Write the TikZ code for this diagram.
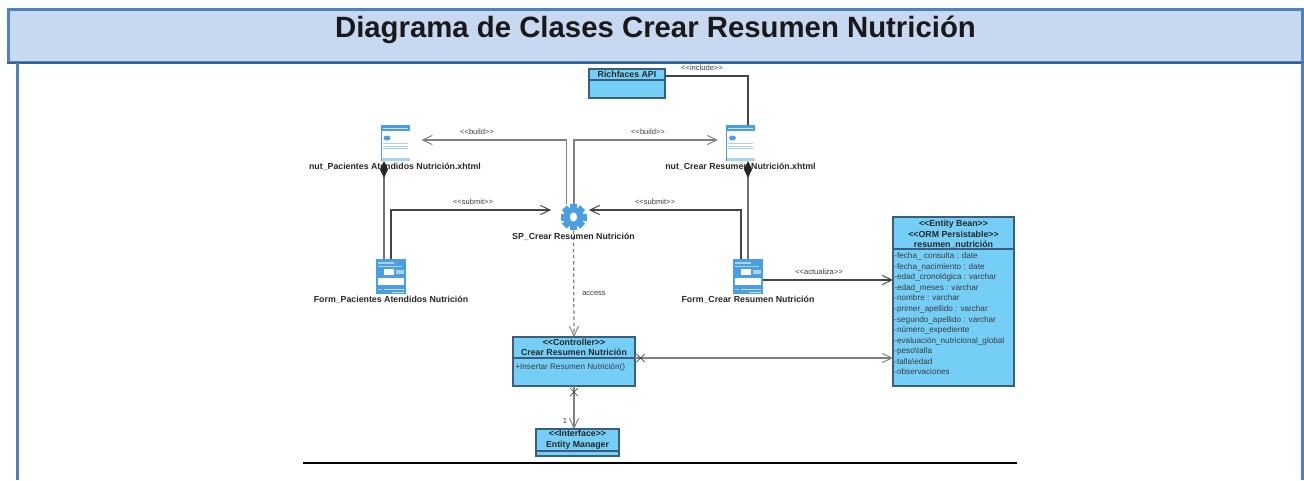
\documentclass[tikz,border=0pt]{standalone}
\usepackage{fontspec}
\setmainfont{Liberation Sans}
\usetikzlibrary{arrows.meta,shapes.misc}

\definecolor{barfill}{HTML}{C6D9F1}
\definecolor{barline}{HTML}{4F81BD}
\definecolor{bardark}{HTML}{366092}
\definecolor{classfill}{HTML}{75CEF6}
\definecolor{classline}{HTML}{3A5F7D}
\definecolor{linkgrey}{HTML}{808080}
\definecolor{linkdark}{HTML}{444444}
\definecolor{labelgrey}{HTML}{3C3C3C}
\definecolor{iconblue}{HTML}{4A9FE3}
\definecolor{iconpale}{HTML}{A8D4F2}

\newcommand{\stereo}[1]{<\kern0pt<#1>\kern0pt>}
\newcommand{\pagedetail}[1]{
    \begin{scope}[shift={(#1.north west)}]
        \fill[iconblue] (0,0) rectangle (29,6);
        \fill[white!70!iconblue] (2,2.5) rectangle (27,3.5);
        \fill[iconpale] (0,33) rectangle (29,36);
        \fill[iconblue] (0,0) rectangle (.7,36);
        \fill[iconblue] (6.5,13) ellipse (3.5 and 2.5);
        \foreach \rowy in {18,20.5,23} {\fill[iconpale] (2,\rowy) rectangle (27,\rowy+.9);}
    \end{scope}
}
\newcommand{\formdetail}[1]{
    \begin{scope}[shift={(#1.north west)}]
        \fill[iconpale] (2,3) rectangle (18,4.5);
        \fill[iconpale] (2,7) rectangle (26,8);
        \fill[white] (8,10) rectangle (18,16);
        \fill[iconpale] (20,11) rectangle (28,15);
        \fill[white] (2,19) rectangle (28,26);
        \fill[iconpale] (2,29.5) rectangle (6,30.5);
        \fill[white!70!iconblue] (8,29.5) rectangle (28,30.5);
        \fill[white!70!iconblue] (16,32.5) rectangle (28,33.5);
    \end{scope}
}

\tikzset{
    smalllabel/.style={font=\fontsize{4.3}{6}\selectfont, text=labelgrey, inner sep=0pt},
    namelabel/.style={font=\fontsize{5}{6}\selectfont\bfseries, text=black!85, inner sep=0pt},
    classhead/.style={draw=classline, line width=.6pt, fill=classfill, inner sep=0pt, outer sep=0pt, align=center, font=\fontsize{5}{6}\selectfont\bfseries, text=black!85},
    classbody/.style={draw=classline, line width=.6pt, fill=classfill, inner sep=0pt, outer sep=0pt},
    attrtext/.style={font=\fontsize{4.65}{6}\selectfont, text=labelgrey, align=left, inner sep=0pt},
    greylink/.style={draw=linkgrey, line width=.95pt},
    darklink/.style={draw=linkdark, line width=.6pt},
    complink/.style={draw=black!85, line width=.6pt, {Diamond[length=9.6pt, width=4.6pt]}-},
    opentip/.style={-{Straight Barb[length=5.5pt, width=5.2pt, line width=.55pt]}},
    crossmark/.style={cross out, draw=linkdark, line width=.4pt, minimum size=4.2pt, inner sep=0pt},
    pageicon/.style={minimum width=.58cm, minimum height=.72cm, inner sep=0pt, outer sep=0pt, fill=white},
    formicon/.style={minimum width=.6cm, minimum height=.7cm, inner sep=0pt, outer sep=0pt, fill=iconblue},
    gearnode/.style={circle, minimum size=.52cm, inner sep=0pt}
}

\begin{document}
\begin{tikzpicture}[x=.02cm, y=-.02cm]
    \useasboundingbox (0,0) rectangle (1304,480);

    % frame and title
    \node[draw=barline, line width=1.7pt, fill=barfill, minimum width=25.88cm, minimum height=1.05cm, inner sep=0pt] (titlebar) at (655.5,35.75) {};
    \draw[bardark, line width=1.15pt] (titlebar.south west) -- (titlebar.south east);
    \node[font=\fontsize{16.7}{18}\selectfont\bfseries, text=black!90, inner sep=0pt] (titletext) at (655.5,30) {Diagrama de Clases Crear Resumen Nutrición};
    \coordinate (frameleft) at (17.5,63);
    \coordinate (frameleftend) at (17.5,480);
    \coordinate (frameright) at (1302.5,63);
    \coordinate (framerightend) at (1302.5,480);
    \draw[barline, line width=1.7pt] (frameleft) -- (frameleftend);
    \draw[barline, line width=1.7pt] (frameright) -- (framerightend);

    % pages and forms
    \node[pageicon] (nutpac) at (395,143) {};
    \node[pageicon] (nutcrear) at (740.5,143) {};
    \node[formicon] (formpac) at (391,276.5) {};
    \node[formicon] (formcrear) at (748,276.5) {};
    \pagedetail{nutpac}
    \pagedetail{nutcrear}
    \formdetail{formpac}
    \formdetail{formcrear}
    \node[gearnode] (spcrear) at (573.5,217) {};
    \foreach \a in {0,45,90,135} {
        \fill[iconblue, shift={(spcrear.center)}, rotate=\a] (-3.5,-13) rectangle (3.5,13);
    }
    \fill[iconblue] (spcrear.center) circle (10);
    \fill[white] (spcrear.center) ellipse (3.6 and 4.6);

    % classes
    \node[classhead, minimum width=1.52cm, minimum height=.22cm] (richhead) at (627,74.5) {Richfaces API};
    \node[classbody, minimum width=1.52cm, minimum height=.36cm, anchor=north] (richbody) at (richhead.south) {};

    \node[classhead, minimum width=2.44cm, minimum height=.42cm] (ctrlhead) at (574,347.5) {\stereo{Controller}\\Crear Resumen Nutrición};
    \node[classbody, minimum width=2.44cm, minimum height=.56cm, anchor=north] (ctrlbody) at (ctrlhead.south) {};
    \node[attrtext, anchor=north west] (ctrlattrs) at ([xshift=.04cm, yshift=-.1cm]ctrlbody.north west) {+Insertar Resumen Nutrición()};

    \node[classhead, minimum width=1.66cm, minimum height=.44cm] (ifacehead) at (577.5,440) {\stereo{Interface}\\Entity Manager};
    \node[classbody, minimum width=1.66cm, minimum height=.1cm, anchor=north] (ifacebody) at (ifacehead.south) {};

    \node[classhead, minimum width=2.42cm, minimum height=.64cm] (entityhead) at (953.5,233) {\rule{0pt}{5.4pt}\stereo{Entity Bean}\\\stereo{ORM Persistable}\\resumen\_nutrición};
    \node[classbody, minimum width=2.42cm, minimum height=2.74cm, anchor=north] (entitybody) at (entityhead.south) {};
    \node[attrtext, anchor=north west] (entityattrs) at ([xshift=.02cm, yshift=-.07cm]entitybody.north west) {-fecha\_ consulta : date\\-fecha\_nacimiento : date\\-edad\_cronológica : varchar\\-edad\_meses : varchar\\-nombre : varchar\\-primer\_apellido : varchar\\-segundo\_apellido : varchar\\-número\_expediente\\-evaluación\_nutricional\_global\\-peso\textbackslash talla\\-talla\textbackslash edad\\-observaciones};

    % connectors
    \draw[greylink, opentip] ([xshift=-.14cm]spcrear.north) |- ([xshift=.24cm, yshift=.06cm]nutpac.east);
    \draw[greylink, opentip] ([xshift=.01cm]spcrear.north) |- ([xshift=-.16cm, yshift=.06cm]nutcrear.west);
    \draw[darklink] ([yshift=-.03cm]richhead.east) -| ([xshift=.15cm]nutcrear.north);
    \draw[complink] ([xshift=-.22cm]nutpac.south) -- ([xshift=-.14cm]formpac.north);
    \draw[complink] ([xshift=.15cm]nutcrear.south) -- (formcrear.north);
    \draw[darklink, opentip] (formpac.north) |- ([shift={(-.18cm,.14cm)}]spcrear.west);
    \draw[darklink, opentip] ([xshift=-.14cm]formcrear.north) |- ([shift={(.04cm,.14cm)}]spcrear.east);
    \draw[darklink, opentip] ([yshift=-.07cm]formcrear.east) -- ([yshift=-.07cm]formcrear.east -| entitybody.west);
    \draw[linkgrey, line width=.7pt, dash pattern=on 2pt off 1.5pt, opentip] (spcrear.south) -- (ctrlhead.north);
    \draw[greylink, opentip] (ctrlhead.south east) -- (ctrlhead.south east -| entitybody.west);
    \draw[greylink, opentip] (ctrlbody.south) -- (ctrlbody.south |- ifacehead.north);
    \node[crossmark] (crossright) at (640.5,358) {};
    \node[crossmark] (crossdown) at (574,392) {};

    % bottom rule
    \coordinate (rulestart) at (303,463);
    \coordinate (ruleend) at (1017,463);
    \draw[black, line width=1.1pt] (rulestart) -- (ruleend);

    % labels
    \node[namelabel] (nutpaclabel) at (395,167) {nut\_Pacientes Atendidos Nutrición.xhtml};
    \node[namelabel] (nutcrearlabel) at (740.5,167) {nut\_Crear Resumen Nutrición.xhtml};
    \node[namelabel] (formpaclabel) at (391,300) {Form\_Pacientes Atendidos Nutrición};
    \node[namelabel] (formcrearlabel) at (748,300) {Form\_Crear Resumen Nutrición};
    \node[namelabel] (splabel) at (573.5,237) {SP\_Crear Resumen Nutrición};
    \node[smalllabel] (buildleft) at (477,132) {\stereo{build}};
    \node[smalllabel] (buildright) at (648,132) {\stereo{build}};
    \node[smalllabel] (submitleft) at (473,202) {\stereo{submit}};
    \node[smalllabel] (submitright) at (655,202) {\stereo{submit}};
    \node[smalllabel] (includelabel) at (702,68) {\stereo{include}};
    \node[smalllabel] (actualizalabel) at (819,272) {\stereo{actualiza}};
    \node[smalllabel] (accesslabel) at (594,293) {access};
    \node[smalllabel] (onelabel) at (565,421) {1};
\end{tikzpicture}
\end{document}
